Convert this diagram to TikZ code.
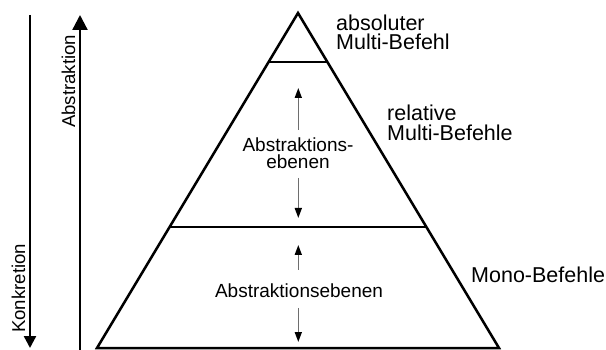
\documentclass[tikz,border=0pt]{standalone}
\usepackage{fontspec}
\setmainfont{Liberation Sans}
\usetikzlibrary{arrows.meta,calc}
\definecolor{shaft}{HTML}{6E6E6E}
\begin{document}
\begin{tikzpicture}[x=1pt,y=-1pt,
  outerlabel/.style={inner sep=0pt,align=left,font=\fontsize{21.5}{19.5}\selectfont},
  innerlabel/.style={inner sep=0pt,align=center,font=\fontsize{19}{17}\selectfont},
  sidelabel/.style={inner sep=0pt,rotate=90,font=\fontsize{18.6}{18.6}\selectfont},
  pyr/.style={line width=2.5pt,line join=miter,miter limit=10},
  bigarrow/.style={line width=2.3pt},
  levelarrow/.style={draw=shaft,line width=1.6pt,-{Triangle[width=7pt,length=10pt,color=black]}}]
\useasboundingbox (0,0) rectangle (606,350);
% pyramid
\coordinate (apex) at (298,13);
\coordinate (bl) at (97,348);
\coordinate (br) at (499,348);
\draw[pyr] (bl) -- (apex) -- (br) -- cycle;
\coordinate (l1) at ($(apex)!0.1463!(bl)$);
\coordinate (r1) at ($(apex)!0.1463!(br)$);
\coordinate (l2) at ($(apex)!0.6388!(bl)$);
\coordinate (r2) at ($(apex)!0.6388!(br)$);
\draw[pyr] (l1) -- (r1);
\draw[pyr] (l2) -- (r2);
% side arrows
\coordinate (ktop) at (30,15);
\coordinate (kbot) at (30,348);
\draw[bigarrow,-{Triangle[width=12pt,length=12pt]}] (ktop) -- (kbot);
\coordinate (abot) at (80,352);
\coordinate (atop) at (80,15);
\draw[bigarrow,-{Triangle[width=15pt,length=15pt]}] (abot) -- (atop);
\node[sidelabel,anchor=base west] (abstr) at (75,128) {Abstraktion};
\node[sidelabel,anchor=base west] (konkr) at (25,333) {Konkretion};
% right labels (base anchor = last line baseline)
\node[outerlabel,anchor=base west] (abs) at (336,50) {absoluter\\Multi-Befehl};
\node[outerlabel,anchor=base west] (rel) at (387,140.5) {relative\\Multi-Befehle};
\node[outerlabel,anchor=base west] (mono) at (471,283) {Mono-Befehle};
% inner labels
\node[innerlabel,anchor=base] (mid) at (298,168.5) {Abstraktions-\\ebenen};
\node[innerlabel,anchor=base] (low) at (299,297.5) {Abstraktionsebenen};
% level arrows
\coordinate (m1a) at (298.3,130);
\coordinate (m1b) at (298.3,88);
\coordinate (m2a) at (298.3,178);
\coordinate (m2b) at (298.3,218);
\draw[levelarrow] (m1a) -- (m1b);
\draw[levelarrow] (m2a) -- (m2b);
\coordinate (n1a) at (298.3,270);
\coordinate (n1b) at (298.3,245);
\coordinate (n2a) at (298.3,308);
\coordinate (n2b) at (298.3,342);
\draw[levelarrow] (n1a) -- (n1b);
\draw[levelarrow] (n2a) -- (n2b);
\end{tikzpicture}
\end{document}
